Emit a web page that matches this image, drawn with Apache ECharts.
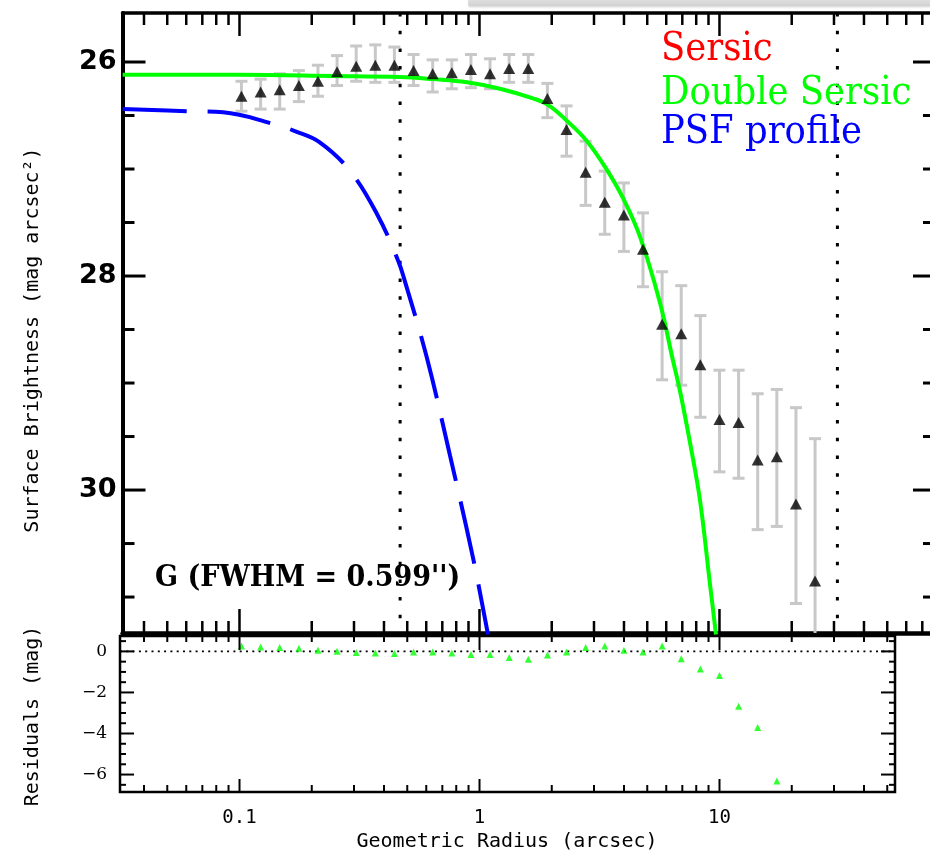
<!DOCTYPE html>
<html><head><meta charset="utf-8">
<script src="https://cdn.jsdelivr.net/npm/echarts@6/dist/echarts.min.js"></script>
<style>html,body{margin:0;padding:0;background:#fff}#c{width:930px;height:854px}</style>
</head><body><div id="c"></div>
<script>
// ---- data ----
const radius = [0.1019,0.1225,0.1471,0.1768,0.2123,0.2550,0.3064,0.3681,0.4421,0.5313,0.6383,0.7669,0.9211,1.1066,1.3295,1.597,1.9187,2.305,2.7693,3.3266,3.9966,4.8008,5.7676,6.9296,8.3237,10.0,12.014,14.428,17.338,20.83,25.02];
const surfMag = [26.32,26.28,26.26,26.22,26.18,26.09,26.04,26.03,26.03,26.08,26.11,26.10,26.07,26.11,26.06,26.06,26.34,26.63,27.03,27.31,27.43,27.75,28.45,28.54,28.83,29.34,29.37,29.72,29.69,30.13,30.85];
const errTop = [26.18,26.16,26.11,26.08,26.03,25.94,25.85,25.84,25.86,25.93,25.98,25.98,25.93,25.97,25.93,25.93,26.20,26.41,26.74,27.02,27.13,27.41,27.96,28.09,28.37,28.88,28.88,29.10,29.06,29.23,29.52];
const errBottom = [26.46,26.44,26.44,26.37,26.32,26.22,26.18,26.19,26.19,26.22,26.28,26.25,26.24,26.25,26.19,26.19,26.52,26.88,27.34,27.61,27.77,28.10,28.97,29.02,29.32,29.83,29.89,30.37,30.34,31.06,31.60];
const residuals = [0.26,0.22,0.19,0.15,0.06,0.01,-0.05,-0.08,-0.10,-0.03,-0.03,-0.08,-0.15,-0.15,-0.30,-0.38,-0.18,-0.03,0.19,0.26,0.05,-0.03,0.26,-0.36,-0.86,-1.17,-2.67,-3.71,-6.31];
const modelRadius = [0.0326,0.1,0.245,0.466,0.64,0.887,1.217,1.671,1.93,2.315,2.805,3.40,3.96,4.66,5.65,6.40,6.84,7.54,8.30,9.13,9.67];
const modelMag = [26.12,26.12,26.13,26.14,26.16,26.19,26.25,26.34,26.40,26.55,26.74,27.01,27.27,27.63,28.25,28.79,29.07,29.56,30.10,30.88,31.35];
const psfRadius = [0.0326,0.0616,0.0854,0.139,0.170,0.216,0.289,0.374,0.457,0.489,0.603,0.754,0.937,1.085];
const psfMag = [26.44,26.46,26.47,26.58,26.645,26.75,27.02,27.42,27.85,28.05,28.76,29.68,30.62,31.35];
const fwhmMarks = [0.467, 31.0];
const xMajorTicks = [0.1, 1, 10];
const xMinorTicks = [0.04,0.05,0.06,0.07,0.08,0.09,0.2,0.3,0.4,0.5,0.6,0.7,0.8,0.9,2,3,4,5,6,7,8,9,20,30,40,50,60,70];
const sbMajorTicks = [26, 28, 30];
const sbMinorTicks = [26.5,27,27.5,28.5,29,29.5,30.5,31];
const resMajorTicks = [0, -2, -4, -6];
const resMinorTicks = [0.5,-0.5,-1,-1.5,-2.5,-3,-3.5,-4.5,-5,-5.5,-6.5];

// ---- axis extents and grid boxes ----
const topX = [0.03255, 75.37], botX = [0.03177, 53.86];
const topY = [25.542, 31.336], botY = [-6.85, 0.75];
const topBox = {left:122.5, top:13, width:807.5, height:620};
const botBox = {left:120, top:636, width:775, height:156};

const chart = echarts.init(document.getElementById('c'), null, {renderer:'canvas'});
const inRange = (arr, ext) => arr.filter(v => v >= ext[0] && v <= ext[1]);
const noTick = {show:false};

const xAxes = [
  {type:'log', logBase:10, gridIndex:0, position:'bottom', min:topX[0], max:topX[1],
    axisLine:{show:true, onZero:false, lineStyle:{color:'#000', width:4.5}}, axisTick:noTick, axisLabel:{show:false}, splitLine:{show:false}},
  {type:'log', logBase:10, gridIndex:0, position:'top', min:topX[0], max:topX[1],
    axisLine:{show:true, onZero:false, lineStyle:{color:'#000', width:3.5}}, axisTick:noTick, axisLabel:{show:false}, splitLine:{show:false}},
  {type:'log', logBase:10, gridIndex:1, position:'bottom', min:botX[0], max:botX[1],
    axisLine:{show:false, onZero:false}, axisTick:noTick, splitLine:{show:false},
    axisLabel:{show:true, customValues: inRange(xMajorTicks, botX), margin:17, color:'#000',
      fontFamily:'DejaVu Sans Mono', fontSize:19, formatter: v => String(+(+v).toPrecision(3))}}
];
const yAxes = [
  {type:'value', gridIndex:0, position:'left', min:topY[0], max:topY[1], inverse:true,
    axisLine:{show:true, onZero:false, lineStyle:{color:'#000', width:4}}, axisTick:noTick, splitLine:{show:false},
    axisLabel:{show:true, customValues: sbMajorTicks, margin:6, color:'#000', fontFamily:'DejaVu Sans', fontWeight:'bold', fontSize:27}},
  {type:'value', gridIndex:1, position:'left', min:botY[0], max:botY[1],
    axisLine:{show:false, onZero:false}, axisTick:noTick, splitLine:{show:false},
    axisLabel:{show:true, customValues: resMajorTicks, margin:13, color:'#000', fontFamily:'DejaVu Serif', fontSize:17,
      formatter: v => (v < 0 ? '\u2212' + Math.abs(v) : String(v))}}
];

// y ticks of the upper panel (custom series through the y scale)
function yTickSeries(xi, yi, xRef, len) {
  const data = len.major.map(v => [xRef, v, 1]).concat(len.minor.map(v => [xRef, v, 0]));
  return {type:'custom', xAxisIndex:xi, yAxisIndex:yi, z:6, silent:true, data,
    renderItem(params, api){
      const cs = params.coordSys; const y = api.coord([api.value(0), api.value(1)])[1];
      const m = api.value(2) === 1; const st = {stroke:'#000', lineWidth:len.w};
      const l = cs.x, r = cs.x + cs.width;
      return {type:'group', children:[
        {type:'line', shape:{x1:l, y1:y, x2:l + (m ? len.lM : len.lm), y2:y}, style:st},
        {type:'line', shape:{x1:r, y1:y, x2:r - (m ? len.rM : len.rm), y2:y}, style:st}
      ]};
    }};
}

const series = [];
series.push(yTickSeries(0, 0, 1, {w:3, major:sbMajorTicks, minor:sbMinorTicks, lM:23, lm:12, rM:17, rm:7}));
// error bars
series.push({type:'custom', xAxisIndex:0, yAxisIndex:0, clip:true, z:2,
  data: radius.map((r,i)=>[r, errTop[i], errBottom[i]]),
  renderItem(params, api){
    const a = api.coord([api.value(0), api.value(1)]);
    const b = api.coord([api.value(0), api.value(2)]);
    const w = 6, st = {stroke:'#c8c8c8', lineWidth:3};
    return {type:'group', children:[
      {type:'line', shape:{x1:a[0],y1:a[1],x2:b[0],y2:b[1]}, style:st},
      {type:'line', shape:{x1:a[0]-w,y1:a[1],x2:a[0]+w,y2:a[1]}, style:st},
      {type:'line', shape:{x1:b[0]-w,y1:b[1],x2:b[0]+w,y2:b[1]}, style:st}
    ]};
  }});
// fwhm dotted lines
fwhmMarks.forEach(m => series.push({type:'line', xAxisIndex:0, yAxisIndex:0, symbol:'none', z:1,
  data:[[m, topY[0]],[m, topY[1]]], lineStyle:{color:'#000', width:3, type:[3.5,14.2], cap:'butt'}}));
// PSF
series.push({type:'line', xAxisIndex:0, yAxisIndex:0, symbol:'none', smooth:0.4, z:3,
  data: psfRadius.map((r,i)=>[r, psfMag[i]]), lineStyle:{color:'#0000ff', width:4, type:[64,21]}});
// Double Sersic model
series.push({type:'line', xAxisIndex:0, yAxisIndex:0, symbol:'none', smooth:0.4, z:4,
  data: modelRadius.map((r,i)=>[r, modelMag[i]]), lineStyle:{color:'#00ff00', width:4}});
// data triangles
series.push({type:'scatter', xAxisIndex:0, yAxisIndex:0, symbol:'triangle', symbolSize:[12,11], z:5,
  data: radius.map((r,i)=>[r, surfMag[i]]), itemStyle:{color:'#000'}});
// residual zero line
series.push({type:'line', xAxisIndex:2, yAxisIndex:1, symbol:'none', z:1,
  data:[[botX[0],0],[botX[1],0]], lineStyle:{color:'#000', width:1.6, type:[2,4.3]}});
// residuals
series.push({type:'scatter', xAxisIndex:2, yAxisIndex:1, symbol:'triangle', symbolSize:[7,7], z:5,
  data: residuals.map((v,i)=>[radius[i], v]), itemStyle:{color:'#00ff00'}});

const textGraphics = [
  {type:'rect', shape:{x:468, y:-4, width:480, height:14, r:6}, z:100,
    style:{fill:{type:'linear', x:0, y:0, x2:0, y2:1, colorStops:[{offset:0,color:'#e6e6e6'},{offset:0.7,color:'#d2d2d2'},{offset:1,color:'rgba(255,255,255,0)'}]}}},
  {type:'text', x:661, y:50, scaleX:0.886, z:100, style:{text:'Sersic', fill:'#ff0000', font:'40px "DejaVu Serif"', verticalAlign:'middle'}},
  {type:'text', x:661, y:94, scaleX:0.886, z:100, style:{text:'Double Sersic', fill:'#00ff00', font:'40px "DejaVu Serif"', verticalAlign:'middle'}},
  {type:'text', x:661, y:133, scaleX:0.886, z:100, style:{text:'PSF profile', fill:'#0000ff', font:'40px "DejaVu Serif"', verticalAlign:'middle'}},
  {type:'text', x:155, y:578, scaleX:0.9, z:100, style:{text:"G (FWHM = 0.599'')", fill:'#000', font:'bold 30px "DejaVu Serif"', verticalAlign:'middle'}},
  {type:'text', x:507, y:842, z:100, style:{text:'Geometric Radius (arcsec)', fill:'#000', font:'20px "DejaVu Sans Mono"', align:'center', verticalAlign:'middle'}},
  {type:'text', x:33, y:340, rotation:Math.PI/2, z:100, style:{text:'Surface Brightness (mag arcsec\u00b2)', fill:'#000', font:'20px "DejaVu Sans Mono"', align:'center', verticalAlign:'middle'}},
  {type:'text', x:33, y:716, rotation:Math.PI/2, z:100, style:{text:'Residuals (mag)', fill:'#000', font:'20px "DejaVu Sans Mono"', align:'center', verticalAlign:'middle'}}
];

chart.setOption({
  animation:false,
  backgroundColor:'#fff',
  grid:[
    Object.assign({show:false}, topBox),
    Object.assign({show:true, borderColor:'#000', borderWidth:2.5, backgroundColor:'transparent'}, botBox)
  ],
  xAxis: xAxes, yAxis: yAxes, series,
  graphic: textGraphics
});

// ---- tick marks as graphic lines, placed with the chart's axis conversion (safe fallback) ----
function safeConv(finder, pt) {
  try { const p = chart.convertToPixel(finder, pt); return (p && isFinite(p[0]) && isFinite(p[1])) ? p : null; }
  catch (e) { return null; }
}
function xPix(finder, box, ext, v, yRef) {
  const p = safeConv(finder, [v, yRef]);
  return p ? p[0] : box.left + Math.log(v / ext[0]) / Math.log(ext[1] / ext[0]) * box.width;
}
function yPix(finder, box, ext, v, xRef) {
  const p = safeConv(finder, [xRef, v]);
  return p ? p[1] : box.top + box.height - (v - ext[0]) / (ext[1] - ext[0]) * box.height;
}
const tickLines = [];
function seg(x1, y1, x2, y2, w) {
  tickLines.push({type:'line', z:50, silent:true, shape:{x1:x1, y1:y1, x2:x2, y2:y2}, style:{stroke:'#000', lineWidth:w}});
}
try {
  const fTop = {xAxisIndex:0, yAxisIndex:0}, fBot = {xAxisIndex:2, yAxisIndex:1};
  const tB = topBox.top + topBox.height, tT = topBox.top;
  inRange(xMajorTicks, topX).forEach(v => { const x = xPix(fTop, topBox, topX, v, 28); seg(x, tB, x, tB - 24, 2.5); seg(x, tT, x, tT + 23, 2.5); });
  inRange(xMinorTicks, topX).forEach(v => { const x = xPix(fTop, topBox, topX, v, 28); seg(x, tB, x, tB - 12, 2.5); seg(x, tT, x, tT + 12, 2.5); });
  const bB = botBox.top + botBox.height, bT = botBox.top, bL = botBox.left, bR = botBox.left + botBox.width;
  inRange(xMajorTicks, botX).forEach(v => { const x = xPix(fBot, botBox, botX, v, -3); seg(x, bB, x, bB - 13, 2); seg(x, bT, x, bT + 14, 2); });
  inRange(xMinorTicks, botX).forEach(v => { const x = xPix(fBot, botBox, botX, v, -3); seg(x, bB, x, bB - 7, 2); seg(x, bT, x, bT + 6, 2); });
  resMajorTicks.forEach(v => { const y = yPix(fBot, botBox, botY, v, 1); seg(bL, y, bL + 14, y, 2); seg(bR, y, bR - 14, y, 2); });
  resMinorTicks.forEach(v => { const y = yPix(fBot, botBox, botY, v, 1); seg(bL, y, bL + 6, y, 2); seg(bR, y, bR - 6, y, 2); });
} catch (e) {}
chart.setOption({graphic: textGraphics.concat(tickLines)});
</script></body></html>
